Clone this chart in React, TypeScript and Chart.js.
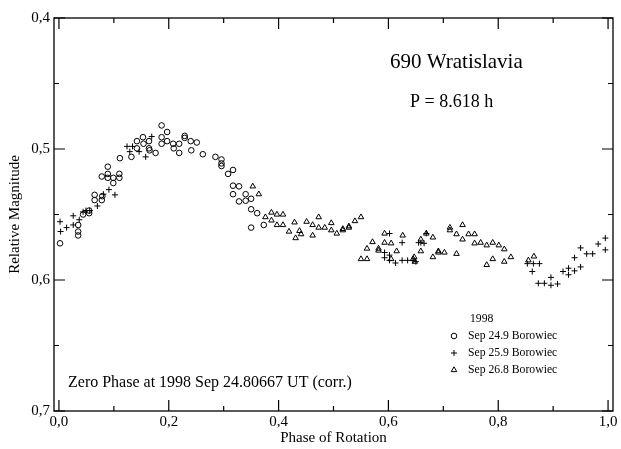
import React, { useEffect, useRef } from 'react';
import { Chart, registerables } from 'chart.js';

Chart.register(...registerables);

const FONT = '"Liberation Serif", "Times New Roman", serif';

// Sep 24.9 Borowiec (circles)
const sep249: [number, number][] = [
  [0.002, 0.572], [0.035, 0.558], [0.035, 0.563], [0.035, 0.566], [0.044, 0.55], [0.055, 0.547],
  [0.055, 0.549], [0.065, 0.535], [0.065, 0.539], [0.078, 0.539], [0.079, 0.536], [0.078, 0.521],
  [0.089, 0.5135], [0.089, 0.519], [0.089, 0.522], [0.099, 0.522], [0.099, 0.526], [0.11, 0.519],
  [0.11, 0.522], [0.111, 0.507], [0.132, 0.506], [0.142, 0.494], [0.142, 0.4995], [0.153, 0.491],
  [0.154, 0.496], [0.164, 0.494], [0.164, 0.4995], [0.165, 0.501], [0.176, 0.503], [0.187, 0.482],
  [0.197, 0.487], [0.187, 0.491], [0.187, 0.496], [0.197, 0.494], [0.208, 0.496], [0.209, 0.4995],
  [0.219, 0.496], [0.219, 0.503], [0.229, 0.49], [0.229, 0.4915], [0.24, 0.494], [0.241, 0.501],
  [0.251, 0.495], [0.262, 0.504], [0.285, 0.506], [0.296, 0.508], [0.296, 0.511], [0.296, 0.513],
  [0.308, 0.519], [0.317, 0.516], [0.317, 0.528], [0.328, 0.5285], [0.317, 0.5345], [0.328, 0.54],
  [0.34, 0.5345], [0.34, 0.5395], [0.35, 0.538], [0.35, 0.546], [0.361, 0.549], [0.373, 0.558],
  [0.35, 0.56],
];

// Sep 25.9 Borowiec (plus signs)
const sep259: [number, number][] = [
  [0.002, 0.5555], [0.003, 0.563], [0.014, 0.56], [0.026, 0.551], [0.026, 0.558], [0.037, 0.554],
  [0.044, 0.548], [0.049, 0.547], [0.056, 0.547], [0.07, 0.5435], [0.081, 0.5345], [0.091, 0.531],
  [0.102, 0.535], [0.124, 0.498], [0.129, 0.502], [0.134, 0.498], [0.146, 0.502], [0.158, 0.506],
  [0.169, 0.4905],
  [0.593, 0.579], [0.593, 0.583], [0.602, 0.5645], [0.602, 0.581], [0.602, 0.585], [0.613, 0.587],
  [0.625, 0.5715], [0.625, 0.585], [0.635, 0.585], [0.645, 0.585], [0.65, 0.586], [0.655, 0.5715],
  [0.665, 0.572], [0.659, 0.5715], [0.669, 0.5645],
  [0.853, 0.5875], [0.864, 0.5875], [0.875, 0.5875], [0.862, 0.5935], [0.873, 0.6025], [0.884, 0.6025],
  [0.896, 0.604], [0.908, 0.603], [0.896, 0.598], [0.918, 0.5935], [0.928, 0.596], [0.928, 0.591],
  [0.939, 0.593], [0.95, 0.59], [0.939, 0.583], [0.95, 0.5755], [0.961, 0.58], [0.972, 0.58],
  [0.982, 0.5725], [0.995, 0.568], [0.995, 0.577],
];

// Sep 26.8 Borowiec (triangles)
const sep268: [number, number][] = [
  [0.353, 0.5285], [0.364, 0.5345], [0.376, 0.552], [0.387, 0.5485], [0.387, 0.5545], [0.397, 0.55],
  [0.408, 0.55], [0.397, 0.558], [0.408, 0.558], [0.419, 0.563], [0.429, 0.556], [0.431, 0.568],
  [0.438, 0.5625], [0.441, 0.565], [0.451, 0.5555], [0.462, 0.558], [0.462, 0.566],
  [0.473, 0.552], [0.473, 0.56], [0.484, 0.56], [0.496, 0.5565], [0.496, 0.562], [0.506, 0.5645],
  [0.517, 0.561], [0.517, 0.562], [0.528, 0.559], [0.528, 0.56], [0.539, 0.555], [0.55, 0.552],
  [0.561, 0.576], [0.571, 0.571], [0.55, 0.584], [0.561, 0.584], [0.582, 0.576], [0.582, 0.5775],
  [0.593, 0.5645], [0.593, 0.5715], [0.605, 0.572], [0.605, 0.584], [0.615, 0.578], [0.626, 0.566],
  [0.647, 0.5825], [0.669, 0.5645], [0.681, 0.5675], [0.659, 0.569], [0.659, 0.578], [0.645, 0.584],
  [0.648, 0.586], [0.691, 0.578], [0.691, 0.579], [0.702, 0.579], [0.681, 0.5825], [0.724, 0.58],
  [0.712, 0.56], [0.712, 0.562], [0.735, 0.558], [0.724, 0.565], [0.735, 0.569], [0.746, 0.565],
  [0.757, 0.565], [0.757, 0.572], [0.768, 0.5715], [0.779, 0.5735], [0.79, 0.5715], [0.801, 0.5735],
  [0.811, 0.5765], [0.79, 0.584], [0.779, 0.5885], [0.811, 0.586], [0.823, 0.5825], [0.855, 0.585],
  [0.865, 0.582],
];

const seriesLabels = ['Sep 24.9 Borowiec', 'Sep 25.9 Borowiec', 'Sep 26.8 Borowiec'];
const seriesStyles = ['circle', 'cross', 'triangle'];
const legendTitle = '1998';
const xMajorTicks = [0, 0.2, 0.4, 0.6, 0.8, 1.0];
const xMinorTicks = [0.1, 0.3, 0.5, 0.7, 0.9];
const yMajorTicks = [0.4, 0.5, 0.6, 0.7];
const yMinorTicks = [0.45, 0.55, 0.65];
const titleText = '690 Wratislavia';
const periodText = 'P = 8.618 h';
const zeroPhaseText = 'Zero Phase at 1998 Sep 24.80667 UT (corr.)';
const xTitle = 'Phase of Rotation';
const yTitle = 'Relative Magnitude';

function drawSymbol(ctx: CanvasRenderingContext2D, style: string, x: number, y: number) {
  ctx.save();
  ctx.strokeStyle = '#000';
  ctx.lineWidth = 1;
  ctx.beginPath();
  if (style === 'circle') {
    ctx.arc(x, y, 2.8, 0, Math.PI * 2);
  } else if (style === 'cross') {
    ctx.moveTo(x - 3, y);
    ctx.lineTo(x + 3, y);
    ctx.moveTo(x, y - 3);
    ctx.lineTo(x, y + 3);
  } else {
    const r = 3.2;
    ctx.moveTo(x, y - r);
    ctx.lineTo(x + r * 0.866, y + r * 0.5);
    ctx.lineTo(x - r * 0.866, y + r * 0.5);
    ctx.closePath();
  }
  ctx.stroke();
  ctx.restore();
}

const framePlugin = {
  id: 'frameAndText',
  afterDraw(chart: any) {
    const { ctx, chartArea, scales } = chart;
    const { left, right, top, bottom } = chartArea;
    const xs = scales.x;
    const ys = scales.y;
    ctx.save();
    ctx.strokeStyle = '#000';
    ctx.lineWidth = 1.3;
    ctx.strokeRect(left, top, right - left, bottom - top);
    ctx.lineWidth = 1.2;
    ctx.beginPath();
    const tick = (v: number, len: number, axis: 'x' | 'y') => {
      if (axis === 'x') {
        const p = xs.getPixelForValue(v);
        ctx.moveTo(p, bottom);
        ctx.lineTo(p, bottom - len);
        ctx.moveTo(p, top);
        ctx.lineTo(p, top + len);
      } else {
        const p = ys.getPixelForValue(v);
        ctx.moveTo(left, p);
        ctx.lineTo(left + len, p);
        ctx.moveTo(right, p);
        ctx.lineTo(right - len, p);
      }
    };
    xMajorTicks.forEach((v) => tick(v, 11, 'x'));
    xMinorTicks.forEach((v) => tick(v, 5, 'x'));
    yMajorTicks.forEach((v) => tick(v, 11, 'y'));
    yMinorTicks.forEach((v) => tick(v, 5, 'y'));
    ctx.stroke();

    ctx.fillStyle = '#000';
    ctx.textBaseline = 'middle';
    ctx.textAlign = 'left';
    ctx.font = `21px ${FONT}`;
    ctx.fillText(titleText, 390, 62);
    ctx.font = `18px ${FONT}`;
    ctx.fillText(periodText, 410, 102);
    ctx.font = `16px ${FONT}`;
    ctx.fillText(zeroPhaseText, 68, 383);

    ctx.font = `11.7px ${FONT}`;
    ctx.fillText(legendTitle, 470, 319);
    seriesLabels.forEach((lab, i) => {
      const y = 336 + i * 17;
      drawSymbol(ctx, seriesStyles[i], 454, y);
      ctx.fillStyle = '#000';
      ctx.fillText(lab, 468, y);
    });
    ctx.restore();
  },
};

export default function App() {
  const ref = useRef<HTMLCanvasElement | null>(null);
  useEffect(() => {
    if (!ref.current) return;
    const mk = (pts: [number, number][], style: string, r: number, label: string) => ({
      label,
      data: pts.map(([x, y]) => ({ x, y })),
      pointStyle: style,
      pointRadius: r,
      pointBorderWidth: 1,
      borderColor: '#000',
      backgroundColor: 'rgba(0,0,0,0)',
      pointBackgroundColor: 'rgba(0,0,0,0)',
      pointBorderColor: '#000',
      showLine: false,
    });
    const tickFont = { family: FONT, size: 15 };
    const chart = new Chart(ref.current, {
      type: 'scatter',
      data: {
        datasets: [
          mk(sep249, 'circle', 2.8, seriesLabels[0]),
          mk(sep259, 'cross', 3, seriesLabels[1]),
          mk(sep268, 'triangle', 3.2, seriesLabels[2]),
        ] as any,
      },
      options: {
        animation: false,
        responsive: false,
        devicePixelRatio: 1,
        layout: { padding: { left: 0, right: 8, top: 18, bottom: 0 } },
        plugins: { legend: { display: false }, tooltip: { enabled: false } },
        scales: {
          x: {
            type: 'linear',
            min: -0.009,
            max: 1.009,
            grid: { display: false, drawTicks: false },
            border: { display: false },
            afterBuildTicks: (s: any) => {
              s.ticks = xMajorTicks.map((v) => ({ value: v }));
            },
            ticks: {
              color: '#000',
              font: tickFont,
              padding: 2,
              maxRotation: 0,
              autoSkip: false,
              callback: (v: any) => Number(v).toFixed(1).replace('.', ','),
            },
            title: {
              display: true,
              text: xTitle,
              color: '#000',
              font: tickFont,
              padding: { top: 0, bottom: 2 },
            },
            afterFit: (s: any) => {
              s.height = 38;
              s.paddingLeft = 0;
              s.paddingRight = 0;
            },
          },
          y: {
            type: 'linear',
            reverse: true,
            min: 0.4,
            max: 0.7,
            grid: { display: false, drawTicks: false },
            border: { display: false },
            afterBuildTicks: (s: any) => {
              s.ticks = yMajorTicks.map((v) => ({ value: v }));
            },
            ticks: {
              color: '#000',
              font: tickFont,
              padding: 4,
              autoSkip: false,
              callback: (v: any) => Number(v).toFixed(1).replace('.', ','),
            },
            title: {
              display: true,
              text: yTitle,
              color: '#000',
              font: tickFont,
              padding: { top: 6, bottom: 0 },
            },
            afterFit: (s: any) => {
              s.width = 54;
              s.paddingTop = 0;
              s.paddingBottom = 0;
            },
          },
        },
      },
      plugins: [framePlugin],
    } as any);
    return () => chart.destroy();
  }, []);
  return (
    <div style={{ position: 'fixed', left: 0, top: 0, width: 621, height: 449, background: '#fff' }}>
      <canvas ref={ref} width={621} height={449} style={{ width: 621, height: 449, display: 'block' }} />
    </div>
  );
}
